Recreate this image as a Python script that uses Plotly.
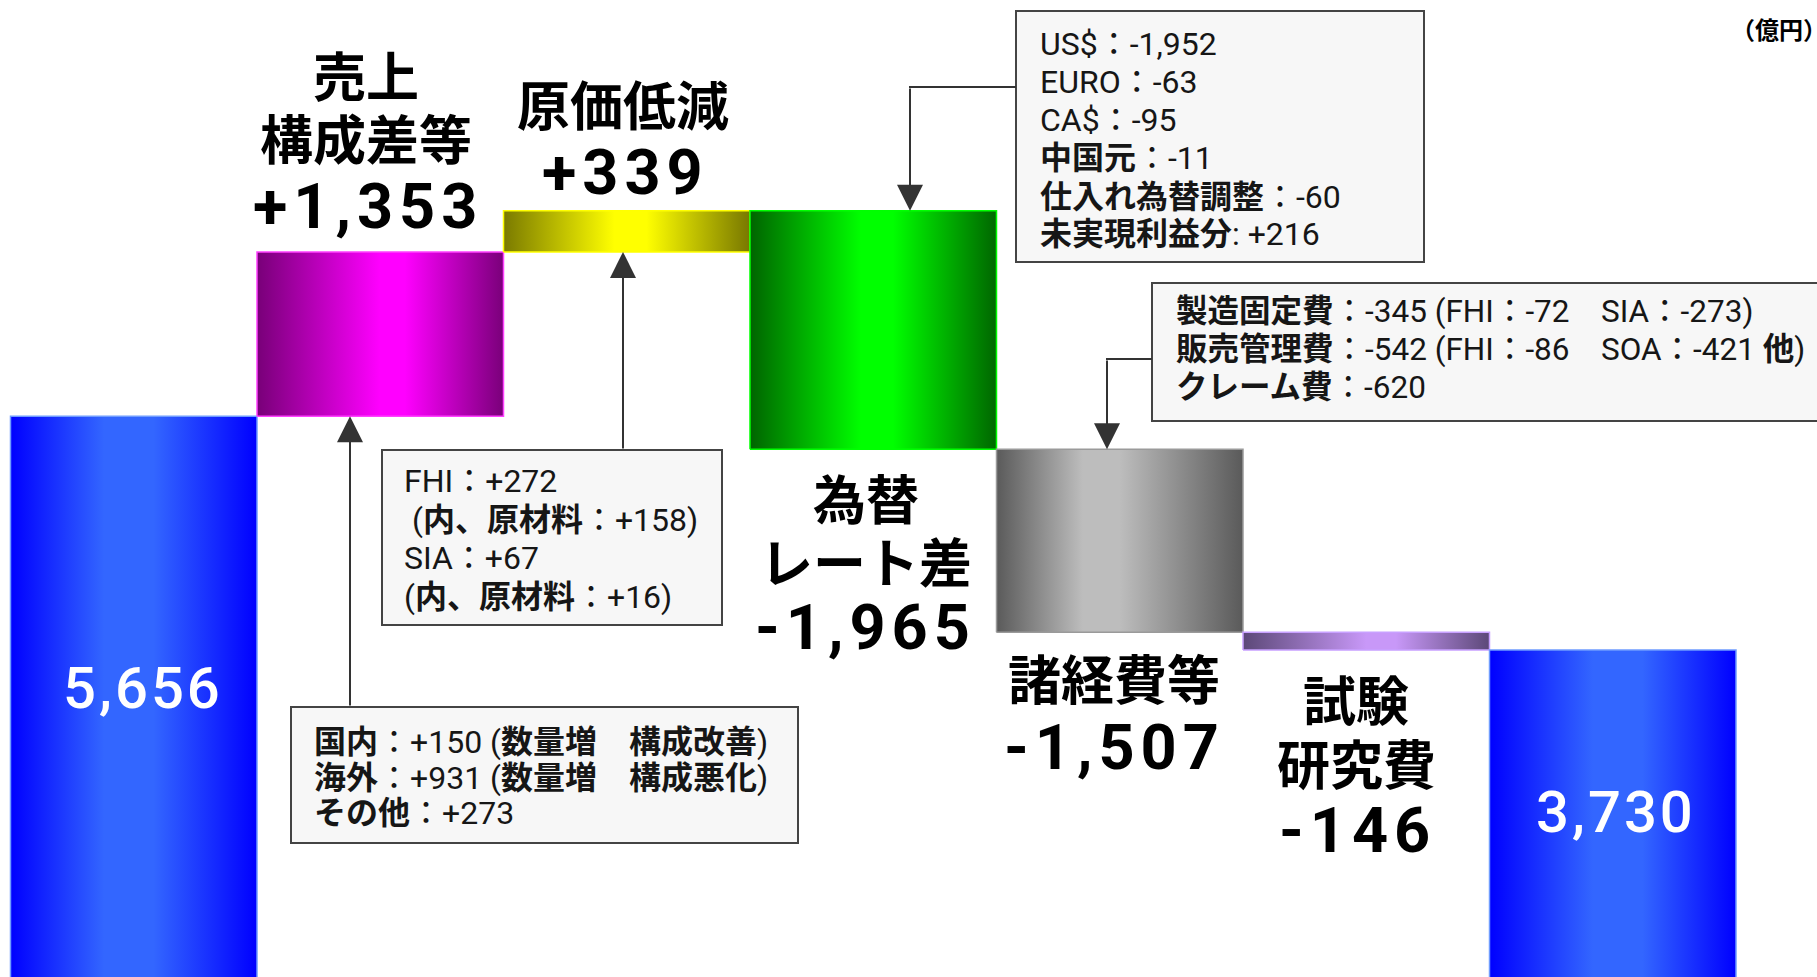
import plotly.graph_objects as go

# ---------------- data ----------------
categories = ["前年", "売上構成差等", "原価低減", "為替レート差", "諸経費等", "試験研究費", "当年"]
values = [5656, 1353, 339, -1965, -1507, -146, 3730]
measures = ["absolute", "relative", "relative", "relative", "relative", "relative", "total"]
label_lines = [[], ["売上", "構成差等"], ["原価低減"], ["為替", "レート差"], ["諸経費等"], ["試験", "研究費"], []]
value_texts = ["5,656", "+1,353", "+339", "-1,965", "-1,507", "-146", "3,730"]

box_sales = ["<b>国内</b>：+150 (<b>数量増　構成改善</b>)",
             "<b>海外</b>：+931 (<b>数量増　構成悪化</b>)",
             "<b>その他</b>：+273"]
box_cost = ["FHI：+272",
            " (<b>内、原材料</b>：+158)",
            "SIA：+67",
            "(<b>内、原材料</b>：+16)"]
box_fx = ["US$：-1,952",
          "EURO：-63",
          "CA$：-95",
          "<b>中国元</b>：-11",
          "<b>仕入れ為替調整</b>：-60",
          "<b>未実現利益分</b>: +216"]
box_exp = ["<b>製造固定費</b>：-345 (FHI：-72　SIA：-273)",
           "<b>販売管理費</b>：-542 (FHI：-86　SOA：-421 <b>他</b>)",
           "<b>クレーム費</b>：-620"]
unit_text = "（億円）"

# ---------------- geometry ----------------
W, H = 1817, 977
Y_LO, Y_HI = 1037, 9083.5
BAR_PX = 246.5
X_LO = -0.5 - 10.5 / BAR_PX
X_HI = X_LO + W / BAR_PX


def px2x(px):
    return X_LO + px / BAR_PX


def py2y(py):
    return Y_HI - py * (Y_HI - Y_LO) / H


def px2p(px):
    return px / W


def py2p(py):
    return 1 - py / H


bases, tops = [], []
running = 0
for v, m in zip(values, measures):
    if m == "absolute":
        b, t = 0, v
        running = v
    elif m == "total":
        b, t = 0, running
    else:
        b, t = running, running + v
        running = t
    bases.append(b)
    tops.append(t)

gradients = [
    [[0, "#0000ff"], [0.38, "#3366ff"], [0.58, "#3366ff"], [1, "#0000ff"]],
    [[0, "#780078"], [0.5, "#ff00ff"], [0.6, "#ff00ff"], [1, "#7a007a"]],
    [[0, "#7a7a00"], [0.45, "#ffff00"], [0.58, "#ffff00"], [1, "#787800"]],
    [[0, "#006400"], [0.45, "#00ff00"], [0.58, "#00ff00"], [1, "#006600"]],
    [[0, "#5a5a5a"], [0.35, "#bdbdbd"], [0.5, "#bdbdbd"], [1, "#5a5a5a"]],
    [[0, "#5c4878"], [0.5, "#c898f8"], [0.62, "#c898f8"], [1, "#5c4878"]],
    [[0, "#0000ff"], [0.42, "#3366ff"], [0.62, "#3366ff"], [1, "#0000ff"]],
]
borders = ["#6f9cff", "#ff40ff", "#ffff00", "#00ff00", "#9a9a9a", "#c8a0ff", "#6f9cff"]

fig = go.Figure()
for i, (b, t) in enumerate(zip(bases, tops)):
    lo, hi = min(b, t), max(b, t)
    fig.add_trace(go.Scatter(
        x=[i - 0.5, i + 0.5, i + 0.5, i - 0.5, i - 0.5],
        y=[lo, lo, hi, hi, lo],
        mode="lines", fill="toself",
        fillgradient=dict(type="horizontal", colorscale=gradients[i]),
        line=dict(color=borders[i], width=1.5),
        name=categories[i], hoverinfo="skip", showlegend=False,
    ))

annotations = []
shapes = []

CJK = "Noto Sans CJK JP"
NUM = "Roboto"
TXT = "Roboto, Noto Sans CJK JP"

# big category labels (pixel centres)
label_pos = {
    1: [(366, 74), (366, 137)],
    2: [(623, 103)],
    3: [(866, 497), (866, 560)],
    4: [(1114, 677)],
    5: [(1356, 698), (1356, 762)],
}
value_pos = {
    0: (143, 688), 1: (368, 206), 2: (625, 173), 3: (865, 627),
    4: (1114, 747), 5: (1357, 830), 6: (1616, 812),
}
for i, lines in enumerate(label_lines):
    for line, (px, py) in zip(lines, label_pos.get(i, [])):
        annotations.append(dict(
            x=px2p(px), y=py2p(py), xref="paper", yref="paper",
            text="<b>" + line + "</b>", showarrow=False,
            xanchor="center", yanchor="middle",
            font=dict(family=CJK, size=53, color="#000000")))
for i, txt in enumerate(value_texts):
    px, py = value_pos[i]
    white = measures[i] != "relative"
    annotations.append(dict(
        x=px2p(px), y=py2p(py), xref="paper", yref="paper",
        text=('<span style="letter-spacing:3px">' + txt + "</span>") if white
        else ('<b><span style="letter-spacing:6px">' + txt + "</span></b>"),
        showarrow=False, xanchor="center", yanchor="middle",
        font=dict(family=NUM, size=58 if white else 63,
                  weight=500 if white else 700,
                  color="#ffffff" if white else "#000000")))

# note boxes
boxes = [
    dict(rect=(291, 707, 798, 843), lines=box_sales, tx=312, ys=[742, 777.5, 812.5], size=32),
    dict(rect=(382, 450, 722, 625), lines=box_cost, tx=402, ys=[481, 520, 558, 597], size=32),
    dict(rect=(1016, 11, 1424, 262), lines=box_fx, tx=1038, ys=[44, 82, 120, 158, 196.5, 233.5], size=32),
    dict(rect=(1152, 283, 1900, 421), lines=box_exp, tx=1174, ys=[311, 349, 387], size=31.5),
]
for bx in boxes:
    x0, y0, x1, y1 = bx["rect"]
    shapes.append(dict(type="rect", xref="paper", yref="paper",
                       x0=px2p(x0), x1=px2p(x1), y0=py2p(y0), y1=py2p(y1),
                       fillcolor="#f7f7f7", line=dict(color="#444444", width=2),
                       layer="above"))
    for line, py in zip(bx["lines"], bx["ys"]):
        annotations.append(dict(
            x=px2p(bx["tx"]), y=py2p(py), xref="paper", yref="paper",
            text=line, showarrow=False, xanchor="left", yanchor="middle",
            font=dict(family=TXT, size=bx["size"], color="#161616")))

# connectors: (pixel x of arrow, pixel y of tail, target bar index, edge)
arrows = [
    (350, 707, 1, "bottom"),
    (623, 450, 2, "bottom"),
    (910, 87, 3, "top"),
    (1107, 359, 4, "top"),
]
for px, tail_py, idx, edge in arrows:
    lo, hi = min(bases[idx], tops[idx]), max(bases[idx], tops[idx])
    tip = lo if edge == "bottom" else hi
    annotations.append(dict(
        x=px2x(px), y=tip, xref="x", yref="y",
        ax=px2x(px), ay=py2y(tail_py), axref="x", ayref="y",
        text="", showarrow=True, arrowhead=2, arrowsize=2.6, arrowwidth=2,
        arrowcolor="#333333", standoff=0))
# horizontal connector segments
for (px, py, bx_left) in [(910, 87, 1016), (1107, 359, 1152)]:
    shapes.append(dict(type="line", xref="paper", yref="paper",
                       x0=px2p(px - 1), x1=px2p(bx_left), y0=py2p(py), y1=py2p(py),
                       line=dict(color="#333333", width=2)))

annotations.append(dict(
    x=px2p(1729), y=py2p(29), xref="paper", yref="paper", text="<b>" + unit_text + "</b>",
    showarrow=False, xanchor="left", yanchor="middle",
    font=dict(family=CJK, size=24, color="#000000")))

fig.update_layout(
    width=W, height=H,
    margin=dict(l=0, r=0, t=0, b=0),
    paper_bgcolor="#ffffff", plot_bgcolor="#ffffff",
    xaxis=dict(range=[X_LO, X_HI], visible=False, fixedrange=True),
    yaxis=dict(range=[Y_LO, Y_HI], visible=False, fixedrange=True),
    showlegend=False, hovermode=False,
    annotations=annotations, shapes=shapes,
)

fig.write_html("out.html", config={"displayModeBar": False},
               post_script="document.body.style.margin='0';")
